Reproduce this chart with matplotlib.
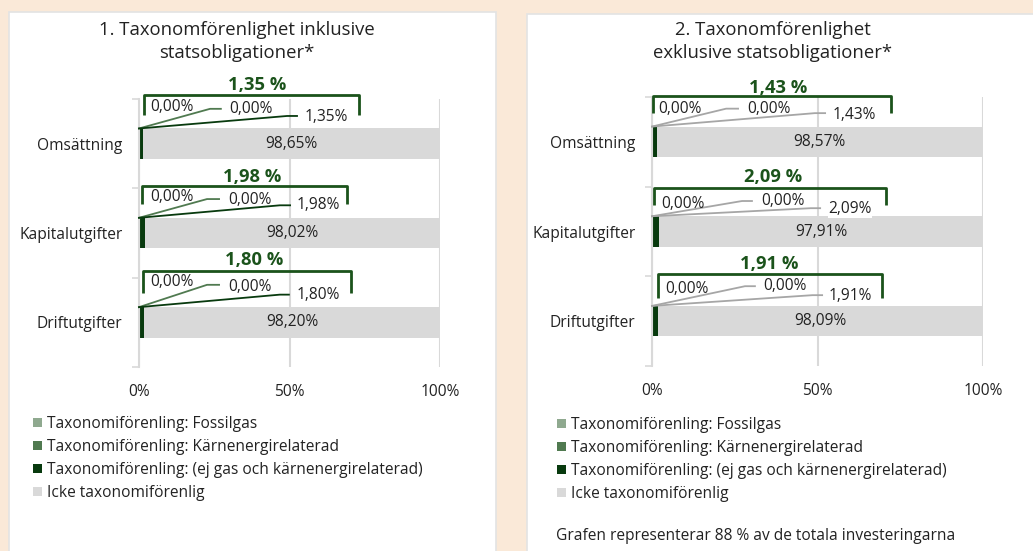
import matplotlib
matplotlib.use("Agg")
import matplotlib.pyplot as plt
from matplotlib.patches import Rectangle
from matplotlib.lines import Line2D

plt.rcParams['font.family'] = ['Open Sans', 'DejaVu Sans']

# ── data ──────────────────────────────────────────────────────────────
categories = ["Omsättning", "Kapitalutgifter", "Driftutgifter"]
series_names = [
    "Taxonomiförenling: Fossilgas",
    "Taxonomiförenling: Kärnenergirelaterad",
    "Taxonomiförenling: (ej gas och kärnenergirelaterad)",
    "Icke taxonomiförenlig",
]
titles = [
    "1. Taxonomförenlighet inklusive\nstatsobligationer*",
    "2. Taxonomförenlighet\nexklusive statsobligationer*",
]
# panel 1: inklusive statsobligationer
p1_fossil = [0.00, 0.00, 0.00]
p1_karn = [0.00, 0.00, 0.00]
p1_ejgas = [1.35, 1.98, 1.80]
p1_icke = [98.65, 98.02, 98.20]
# panel 2: exklusive statsobligationer
p2_fossil = [0.00, 0.00, 0.00]
p2_karn = [0.00, 0.00, 0.00]
p2_ejgas = [1.43, 2.09, 1.91]
p2_icke = [98.57, 97.91, 98.09]
footnote = "Grafen representerar 88 % av de totala investeringarna"

# ── style ─────────────────────────────────────────────────────────────
C_BG = "#FAE9D8"
C_FOSSIL = "#8FA98F"
C_KARN = "#507A50"
C_EJGAS = "#083A0E"
C_ICKE = "#D9D9D9"
C_TOTAL = "#1B531B"
C_TEXT = "#222222"
C_GRID = "#D9D9D9"

W, H = 1033, 551


def fx(x):
    return x / W


def fy(y):
    return 1 - y / H


def pct(v):
    return f"{v:.2f}".replace(".", ",") + "%"


# layout of label/bracket offsets per row (x in %, y in category units)
# keys: a/b/c = (x, y) of the three small labels,
# lb/lc = (elbow x, end x, y) leaders, br = (x0, x1, top, bottom) bracket,
# tot = (x, y) of the bold total
layout1 = [
    dict(a=(11.0, -0.41), b=(37.2, -0.39), c=(62.1, -0.30), lb=(23.6, 27.2, -0.39),
         lc=(49.2, 52.5, -0.31), br=(1.7, 73.1, -0.545, -0.32), tot=(39.2, -0.66)),
    dict(a=(11.0, -0.40), b=(36.9, -0.37), c=(59.5, -0.31), lb=(22.6, 26.6, -0.38),
         lc=(46.8, 50.2, -0.31), br=(1.0, 69.1, -0.53, -0.33), tot=(37.5, -0.63)),
    dict(a=(11.0, -0.45), b=(36.9, -0.40), c=(59.5, -0.31), lb=(22.6, 26.6, -0.42),
         lc=(46.8, 49.8, -0.31), br=(1.3, 70.4, -0.58, -0.33), tot=(38.2, -0.70)),
]
layout2 = [
    dict(a=(8.5, -0.37), b=(35.3, -0.37), c=(61.0, -0.30), lb=(22.4, 26.0, -0.37),
         lc=(49.2, 52.3, -0.32), br=(0.3, 72.2, -0.51, -0.32), tot=(38.1, -0.60)),
    dict(a=(9.4, -0.31), b=(39.6, -0.34), c=(59.8, -0.25), lb=(27.2, 30.2, -0.34),
         lc=(48.0, 50.8, -0.26), br=(0.6, 70.7, -0.49, -0.30), tot=(36.6, -0.61)),
    dict(a=(10.6, -0.36), b=(40.2, -0.39), c=(59.8, -0.28), lb=(28.1, 31.1, -0.39),
         lc=(48.5, 51.4, -0.29), br=(1.8, 69.5, -0.53, -0.26), tot=(35.3, -0.64)),
]

fig = plt.figure(figsize=(W / 100, H / 100), dpi=100)
fig.patch.set_facecolor(C_BG)

# white cards
for x0, x1, top in [(9, 496, 12), (527, 1045, 14)]:
    fig.add_artist(Rectangle((fx(x0), fy(H + 5)), (x1 - x0) / W, (H + 5 - top) / H,
                             transform=fig.transFigure, facecolor="white",
                             edgecolor="#E3E3E3", linewidth=1.2, zorder=0))


def draw_panel(rect, title, title_x, fossil, karn, ejgas, icke, layout, lead_b, lead_c,
               legend_xy):
    ax = fig.add_axes(rect)
    ax.set_facecolor("none")
    y = list(range(len(categories)))
    h = 0.34
    left = [0.0] * len(y)
    handles = []
    for vals, col, name in zip([fossil, karn, ejgas, icke],
                               [C_FOSSIL, C_KARN, C_EJGAS, C_ICKE], series_names):
        bc = ax.barh(y, vals, left=left, height=h, color=col, label=name, zorder=2)
        handles.append(bc)
        left = [l + v for l, v in zip(left, vals)]
    ax.bar_label(handles[3], labels=[pct(v) for v in icke], label_type="center",
                 fontsize=11.2, color=C_TEXT)

    for i, lay in enumerate(layout):
        y0 = i - h / 2
        # leaders
        ex, endx, ly = lay["lb"]
        ax.plot([0, ex, endx], [y0, i + ly, i + ly], color=lead_b, lw=1.3,
                clip_on=False, zorder=3)
        ex, endx, ly = lay["lc"]
        ax.plot([0, ex, endx], [y0, i + ly, i + ly], color=lead_c, lw=1.3,
                clip_on=False, zorder=3)
        # labels
        for key, v in zip("abc", [fossil[i], karn[i], ejgas[i]]):
            lx, lyy = lay[key]
            ax.text(lx, i + lyy, pct(v), ha="center", va="center", fontsize=11.2,
                    color=C_TEXT, zorder=4,
                    bbox=dict(facecolor="white", edgecolor="none", pad=0.3)
                    if key == "c" else None)
        # bracket
        x0, x1, top, bot = lay["br"]
        ax.add_line(Line2D([x0, x0, x1, x1], [i + bot, i + top, i + top, i + bot],
                           color=C_TOTAL, lw=2, solid_joinstyle="round",
                           solid_capstyle="butt", clip_on=False, zorder=3))
        tx, ty = lay["tot"]
        total = fossil[i] + karn[i] + ejgas[i]
        ax.text(tx, i + ty, f"{total:.2f}".replace(".", ",") + " %", ha="center",
                va="center", fontsize=13.2, fontweight="bold", color=C_TOTAL)

    ax.set_xlim(0, 100)
    ax.set_ylim(len(categories) - 0.5, -0.5)
    ax.set_xticks([0, 50, 100])
    ax.set_xticklabels(["0%", "50%", "100%"])
    ax.set_yticks(y)
    ax.set_yticklabels(categories)
    ax.set_yticks([k - 0.5 for k in range(len(categories) + 1)], minor=True)
    ax.tick_params(axis="x", length=0, pad=12, labelsize=11.2, labelcolor=C_TEXT)
    ax.tick_params(axis="y", which="major", length=0, pad=12, labelsize=11.2,
                   labelcolor=C_TEXT)
    ax.tick_params(axis="y", which="minor", length=5, color=C_GRID, width=1.2)
    ax.grid(axis="x", color=C_GRID, lw=1.5, zorder=0)
    ax.set_axisbelow(True)
    for s in ["top", "right", "bottom"]:
        ax.spines[s].set_visible(False)
    ax.spines["left"].set_color(C_GRID)
    ax.spines["left"].set_linewidth(1.5)

    fig.text(title_x, fy(41.5), title, ha="center", va="center", fontsize=13.3,
             color=C_TEXT, linespacing=1.3)

    fig.legend(handles=handles, labels=series_names, loc="upper left",
               bbox_to_anchor=legend_xy, frameon=False, fontsize=11.2,
               handlelength=0.6, handleheight=0.6, handletextpad=0.3,
               labelspacing=0.45, borderaxespad=0, borderpad=0,
               labelcolor=C_TEXT)
    return ax


draw_panel([fx(139), fy(367), (440 - 139) / W, (367 - 99) / H], titles[0], fx(237),
           p1_fossil, p1_karn, p1_ejgas, p1_icke, layout1, C_KARN, C_EJGAS,
           (fx(33), fy(416)))
draw_panel([fx(652), fy(366), (983 - 652) / W, (366 - 97) / H], titles[1], fx(773),
           p2_fossil, p2_karn, p2_ejgas, p2_icke, layout2, "#A6A6A6", "#A6A6A6",
           (fx(557), fy(417)))

fig.text(fx(556), fy(536), footnote, ha="left", va="center", fontsize=11.2,
         color=C_TEXT)

fig.savefig("out.png", dpi=100, facecolor=fig.get_facecolor())
